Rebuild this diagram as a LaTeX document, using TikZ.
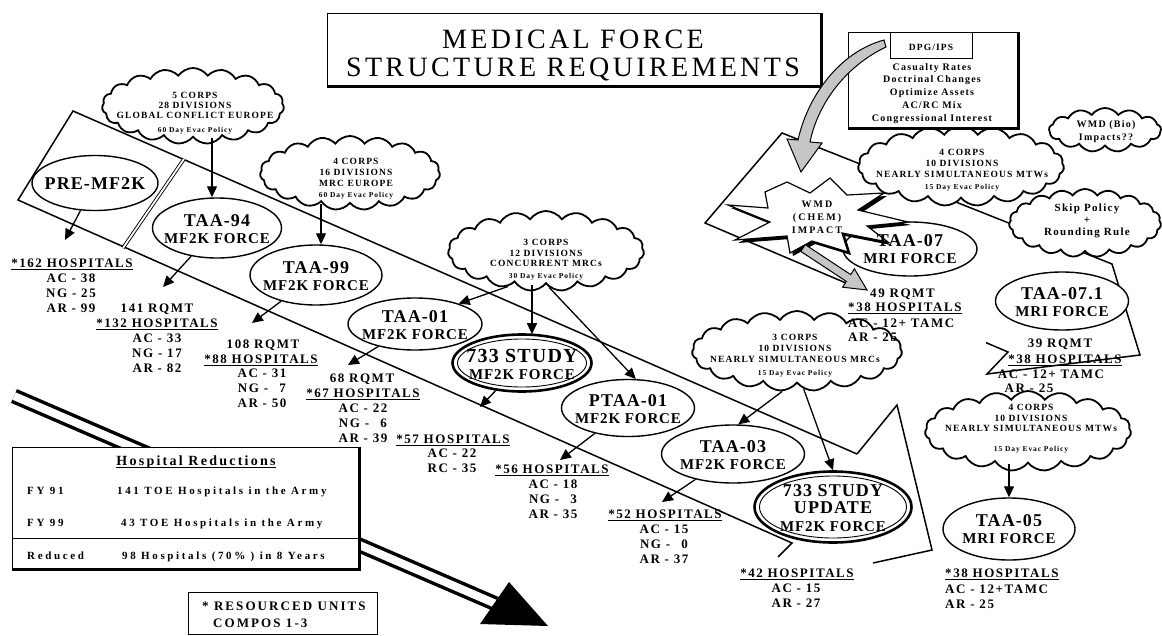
\documentclass[tikz,border=0pt]{standalone}
\usepackage{fontspec}
\setmainfont{Liberation Serif}
\newfontfamily\espc[LetterSpace=6]{Liberation Serif}
\newfontfamily\spc[LetterSpace=12]{Liberation Serif}
\newfontfamily\mspc[LetterSpace=16]{Liberation Serif}
\newfontfamily\wspc[LetterSpace=21]{Liberation Serif}
\newfontfamily\xspc[LetterSpace=24]{Liberation Serif}
\newfontfamily\tspc[LetterSpace=12]{Liberation Serif}
\usetikzlibrary{shapes.geometric,shapes.symbols,arrows.meta,calc}
\newcommand\fz[2]{\fontsize{#1}{#2}\selectfont}
\newcommand\ulnd[1]{\draw[line width=1.2pt] ([yshift=-2.5pt]#1.base west) -- ([yshift=-2.5pt]#1.base east);}
\begin{document}
\begin{tikzpicture}[x=1pt,y=-1pt,
  band/.style={line width=1.5pt, line join=miter},
  arr/.style={line width=1.3pt, -{Triangle[length=11pt,width=10pt]}},
  ell/.style={ellipse, draw, line width=1.4pt, fill=white, inner sep=0pt},
  cl/.style={cloud, cloud puffs=19, cloud puff arc=110, cloud ignores aspect, draw, line width=1.8pt, fill=white, inner sep=0pt},
  etxt/.style={inner sep=0pt, align=center, font=\espc\bfseries\fz{15}{17}},
  ctxt/.style={inner sep=0pt, align=center, anchor=north, font=\spc\bfseries\fz{9.5}{10.5}},
  lbl/.style={inner sep=0pt, anchor=base, font=\spc\bfseries\fz{13}{15}},
  sbox/.style={draw, line width=1pt, fill=white, inner sep=0pt},
  shadowline/.style={line width=3pt},
  stripe/.style={draw, line width=1pt, fill=gray!45},
  ]
\useasboundingbox (0,0) rectangle (1162,635);

% ---------- bands ----------
\draw[band] (857,454) -- (73,111) -- (18,200) -- (792,543) -- (778,557);
\draw[band] (857,454) -- (897,405) -- (932,550) -- (873,563);
\draw[line width=0.9pt, double, double distance=1.8pt] (184,159) -- (123,248);
\draw[band] (1008,352) -- (705,223) -- (782,133) -- (1112,264) -- (1140,355) -- (987,374) -- cycle;

% ---------- big arrow shaft ----------
\coordinate (bigS) at (14,396);
\coordinate (bigE) at (496,604);
\draw[line width=3.5pt, double=white, double distance=8pt] (bigS) -- (bigE);

% white block behind TAA-07 figures
\fill[white] (846,281) rectangle (986,346);

% ---------- ellipses ----------
\node[ell, minimum width=126pt, minimum height=55pt] (pre) at (95,183) {};
\node[ell, minimum width=129pt, minimum height=60pt] (t94) at (217,228) {};
\node[ell, minimum width=132pt, minimum height=60pt] (t99) at (316,275) {};
\node[ell, minimum width=134pt, minimum height=52pt] (t01) at (415,324) {};
\node[ell, line width=2.6pt, minimum width=139pt, minimum height=57pt] (s733) at (522,363) {};
\draw[line width=0.9pt] (s733.center) ellipse [x radius=64.5, y radius=24];
\node[ell, minimum width=133pt, minimum height=57pt] (ptaa) at (628,408) {};
\node[ell, minimum width=143pt, minimum height=58pt] (t03) at (733,454) {};
\node[ell, line width=2.6pt, minimum width=157pt, minimum height=71pt] (s733u) at (833,507) {};
\draw[line width=0.9pt] (s733u.center) ellipse [x radius=73.5, y radius=31];
\node[ell, minimum width=132pt, minimum height=62pt] (t05) at (1009,529) {};
\node[ell, minimum width=134pt, minimum height=54pt] (t07) at (910,249) {};
\node[ell, minimum width=133pt, minimum height=58pt] (t071) at (1062,301) {};

% ---------- clouds ----------
\node[cl, minimum width=182pt, minimum height=76pt] (cA) at (193,106) {};
\node[cl, minimum width=180pt, minimum height=74pt] (cB) at (350,173) {};
\node[cl, minimum width=196pt, minimum height=80pt] (cC) at (546,251) {};
\node[cl, minimum width=210pt, minimum height=80pt] (cD) at (797,351) {};
\node[cl, minimum width=206pt, minimum height=80pt] (cE) at (1028,431) {};
\node[cl, minimum width=206pt, minimum height=80pt] (cF) at (961,166) {};
\node[cl, minimum width=152pt, minimum height=68pt] (cSkip) at (1085,223) {};
\node[cl, cloud puffs=13, minimum width=112pt, minimum height=44pt] (cBio) at (1105,130) {};

% ---------- WMD star ----------
\begin{scope}[shift={(3,3)}]
\fill (765,192) -- (787,182) -- (810,193) -- (830,178) -- (847,195) -- (884,193) -- (858,210) -- (908,222) -- (867,226) -- (888,242) -- (842,233) -- (848,252) -- (812,241) -- (790,253) -- (787,236) -- (735,240) -- (770,222) -- (728,205) -- (768,208) -- cycle;
\end{scope}
\draw[line width=1.2pt, fill=white] (765,192) -- (787,182) -- (810,193) -- (830,178) -- (847,195) -- (884,193) -- (858,210) -- (908,222) -- (867,226) -- (888,242) -- (842,233) -- (848,252) -- (812,241) -- (790,253) -- (787,236) -- (735,240) -- (770,222) -- (728,205) -- (768,208) -- cycle;
\node[inner sep=0pt, align=center, anchor=north, font=\wspc\bfseries\fz{10}{13}] (wmd) at (817,201) {WMD\\(CHEM)\\IMPACT};

% ---------- boxes ----------
\node[sbox, minimum width=493pt, minimum height=72pt, anchor=north west] (title) at (327,13) {};
\draw[shadowline] (title.north east) -- (title.south east) -- (title.south west);
\node[inner sep=0pt, anchor=base, font=\tspc\fz{28}{28}] (title1) at (573,48) {MEDICAL FORCE};
\node[inner sep=0pt, anchor=base, font=\tspc\fz{28}{28}] (title2) at (573,76) {STRUCTURE REQUIREMENTS};

\node[sbox, minimum width=169pt, minimum height=95pt, anchor=north west] (dpg) at (848,32) {};
\draw[shadowline] (dpg.north east) -- (dpg.south east) -- (dpg.south west);
\node[draw, line width=1pt, minimum width=82pt, minimum height=26pt, anchor=north west, inner sep=0pt] (dpgh) at (890,32) {};
\node[lbl, font=\spc\bfseries\fz{9.5}{11}] (dpgt) at (931,50) {DPG/IPS};
\node[ctxt, font=\spc\bfseries\fz{10}{12.8}] (dpgl) at (932,63) {Casualty Rates\\Doctrinal Changes\\Optimize Assets\\AC/RC Mix\\Congressional Interest};

\node[sbox, minimum width=346pt, minimum height=121pt, anchor=north west] (hbox) at (12,447) {};
\draw[shadowline] (hbox.north east) -- (hbox.south east) -- (hbox.south west);
\draw[line width=1pt] (hbox.west |- 0,538) -- (hbox.east |- 0,538);
\node[lbl, font=\mspc\bfseries\fz{14}{15}] (hhead) at (196,465) {Hospital Reductions};
\ulnd{hhead}
\begin{scope}[every node/.style={lbl, anchor=base west, font=\xspc\bfseries\fz{11}{12}}]
\node (h1a) at (27,494) {FY 91};
\node (h1b) at (117,494) {141 TOE Hospitals in the Army};
\node (h2a) at (27,526) {FY 99};
\node (h2b) at (121,526) {43 TOE Hospitals in the Army};
\node (h3a) at (27,559) {Reduced};
\node (h3b) at (122,559) {98 Hospitals (70\% ) in 8 Years};
\end{scope}

\node[draw, line width=1.2pt, minimum width=189pt, minimum height=42pt, anchor=north west, inner sep=0pt] (rbox) at (188,592) {};
\node[lbl, anchor=base west, font=\mspc\bfseries\fz{13}{14}] (r1) at (202,610) {* RESOURCED UNITS};
\node[lbl, anchor=base west, font=\mspc\bfseries\fz{13}{14}] (r2) at (213,627) {COMPOS 1-3};

% ---------- ellipse texts ----------
\node[etxt] (preX) at (95,184) {{\fz{18}{17}PRE-MF2K}};
\node[etxt] (t94X) at (217,229) {{\fz{18}{17}TAA-94}\\MF2K FORCE};
\node[etxt] (t99X) at (316,276) {{\fz{18}{17}TAA-99}\\MF2K FORCE};
\node[etxt] (t01X) at (415,325) {{\fz{18}{17}TAA-01}\\MF2K FORCE};
\node[etxt] (s733X) at (522,364) {{\fz{20}{18}733 STUDY}\\MF2K FORCE};
\node[etxt] (ptaaX) at (628,409) {{\fz{18}{17}PTAA-01}\\MF2K FORCE};
\node[etxt] (t03X) at (733,455) {{\fz{18}{17}TAA-03}\\MF2K FORCE};
\node[etxt, font=\espc\bfseries\fz{15}{17.5}] (s733uX) at (833,508) {{\fz{18}{17.5}733 STUDY}\\{\fz{18}{17.5}UPDATE}\\MF2K FORCE};
\node[etxt] (t05X) at (1009,529) {{\fz{18}{17}TAA-05}\\MRI FORCE};
\node[etxt] (t07X) at (910,249) {{\fz{18}{17}TAA-07}\\MRI FORCE};
\node[etxt] (t071X) at (1062,302) {{\fz{18}{17}TAA-07.1}\\MRI FORCE};

% ---------- cloud texts ----------
\node[ctxt, font=\spc\bfseries\fz{9.5}{10}] (cAX) at (195,92) {5 CORPS\\28 DIVISIONS\\GLOBAL CONFLICT EUROPE\\[4pt]{\fz{7.5}{7}60 Day Evac Policy}};
\node[ctxt, font=\spc\bfseries\fz{9.5}{11}] (cBX) at (356,158) {4 CORPS\\16 DIVISIONS\\MRC EUROPE\\{\fz{7.5}{7}60 Day Evac Policy}};
\node[ctxt, font=\spc\bfseries\fz{9.5}{10.5}] (cCX) at (546,239.5) {3 CORPS\\12 DIVISIONS\\CONCURRENT MRCs\\[1.5pt]{\fz{7.5}{7}30 Day Evac Policy}};
\node[ctxt, font=\spc\bfseries\fz{9.5}{11}] (cDX) at (795,334.5) {3 CORPS\\10 DIVISIONS\\NEARLY SIMULTANEOUS MRCs\\[2pt]{\fz{7.5}{7}15 Day Evac Policy}};
\node[ctxt, font=\spc\bfseries\fz{9.5}{10.5}] (cEX) at (1031,404.5) {4 CORPS\\10 DIVISIONS\\NEARLY SIMULTANEOUS MTWs\\[9.5pt]{\fz{7.5}{7}15 Day Evac Policy}};
\node[ctxt, font=\spc\bfseries\fz{9.5}{11}] (cFX) at (962,149.5) {4 CORPS\\10 DIVISIONS\\NEARLY SIMULTANEOUS MTWs\\[1pt]{\fz{7.5}{7}15 Day Evac Policy}};
\node[ctxt, font=\spc\bfseries\fz{11}{12}] (cSkipX) at (1087,204) {Skip Policy\\+\\Rounding Rule};
\node[ctxt, font=\spc\bfseries\fz{10}{13}] (cBioX) at (1106,120) {WMD (Bio)\\Impacts??};

% ---------- hospital figures ----------
\node[lbl] (n162) at (72,267) {*162 HOSPITALS}; \ulnd{n162}
\node[lbl] (n162a) at (71,282) {AC - 38};
\node[lbl] (n162b) at (71,297) {NG - 25};
\node[lbl] (n162c) at (71,312) {AR - 99};

\node[lbl] (r141) at (157,312) {141 RQMT};
\node[lbl] (n132) at (157,327) {*132 HOSPITALS}; \ulnd{n132}
\node[lbl] (n132a) at (157,342) {AC - 33};
\node[lbl] (n132b) at (157,357) {NG - 17};
\node[lbl] (n132c) at (157,372) {AR - 82};

\node[lbl] (r108) at (263,348) {108 RQMT};
\node[lbl] (n88) at (261,363) {*88 HOSPITALS}; \ulnd{n88}
\node[lbl] (n88a) at (262,377) {AC - 31};
\node[lbl] (n88b) at (262,392) {NG - \phantom{0}7};
\node[lbl] (n88c) at (262,407) {AR - 50};

\node[lbl] (r68) at (362,382) {68 RQMT};
\node[lbl] (n67) at (363,397) {*67 HOSPITALS}; \ulnd{n67}
\node[lbl] (n67a) at (363,412) {AC - 22};
\node[lbl] (n67b) at (363,427) {NG - \phantom{0}6};
\node[lbl] (n67c) at (363,442) {AR - 39};

\node[lbl] (n57) at (453,443) {*57 HOSPITALS}; \ulnd{n57}
\node[lbl] (n57a) at (452,457) {AC - 22};
\node[lbl] (n57b) at (452,472) {RC - 35};

\node[lbl] (n56) at (552,473) {*56 HOSPITALS}; \ulnd{n56}
\node[lbl] (n56a) at (553,488) {AC - 18};
\node[lbl] (n56b) at (553,503) {NG - \phantom{0}3};
\node[lbl] (n56c) at (553,518) {AR - 35};

\node[lbl] (n52) at (665,518) {*52 HOSPITALS}; \ulnd{n52}
\node[lbl] (n52a) at (664,533) {AC - 15};
\node[lbl] (n52b) at (664,548) {NG - \phantom{0}0};
\node[lbl] (n52c) at (664,563) {AR - 37};

\node[lbl] (n42) at (797,577) {*42 HOSPITALS}; \ulnd{n42}
\node[lbl] (n42a) at (796,592) {AC - 15};
\node[lbl] (n42b) at (796,607) {AR - 27};

\node[lbl, anchor=base west] (n38e) at (945,577) {*38 HOSPITALS}; \ulnd{n38e}
\node[lbl, anchor=base west] (n38ea) at (945,593) {AC - 12+TAMC};
\node[lbl, anchor=base west] (n38eb) at (945,608) {AR - 25};

\node[lbl, anchor=base west] (r49) at (870,297) {49 RQMT};
\node[lbl, anchor=base west] (n38c) at (848,311) {*38 HOSPITALS}; \ulnd{n38c}
\node[lbl, anchor=base west] (n38ca) at (848,327) {AC - 12+ TAMC};
\node[lbl, anchor=base west] (n38cb) at (848,341) {AR - 25};

\node[lbl] (r39) at (1060,347) {39 RQMT};
\node[lbl] (n38d) at (1065,363) {*38 HOSPITALS}; \ulnd{n38d}
\node[lbl] (n38da) at (1051,378) {AC - 12+ TAMC};
\node[lbl] (n38db) at (1029,392) {AR - 25};

% ---------- connectors ----------
\coordinate (a1) at (65,240);
\coordinate (a2) at (163,287);
\coordinate (a3) at (252,323);
\coordinate (a4) at (348,365);
\coordinate (a5) at (480,407);
\coordinate (a6) at (560,460);
\coordinate (a7) at (662,502);
\draw[arr] (pre) -- (a1);
\draw[arr] (t94) -- (a2);
\draw[arr] (t99) -- (a3);
\draw[arr] (t01) -- (a4);
\draw[arr] (s733) -- (a5);
\draw[arr] (ptaa) -- (a6);
\draw[arr] (t03) -- (a7);
\draw[arr] ($(t94.north |- cA.south)+(-5,0)$) -- ($(t94.north)+(-5,0)$);
\draw[arr] ($(t99.north |- cB.south)+(5,0)$) -- ($(t99.north)+(5,0)$);
\draw[arr] (cC.223) -- (t01.25);
\draw[arr] ($(s733.north |- cC.south)+(10,0)$) -- ($(s733.north)+(10,1)$);
\draw[arr] (cC.275) -- (ptaa.75);
\draw[arr] (cD.250) -- (t03.80);
\draw[arr] (cD.280) -- (s733u.north);
\draw[arr] (t05.north |- cE.south) -- (t05.north);

% ---------- striped arrows ----------
\draw[stripe] (884,40) .. controls (840,52) and (808,95) .. (798,140) -- (787,139) -- (801,172) -- (822,143) -- (810,142) .. controls (818,103) and (846,66) .. (886,47) -- cycle;
\draw[stripe] (800.8,251.4) -- (846.3,281.4) -- (842.6,287.2) -- (867,290) -- (854.4,268.8) -- (850.7,274.6) -- (805.2,244.6) -- cycle;

% ---------- big arrow head ----------
\fill (509,582) -- (548,626) -- (480,624) -- cycle;
\end{tikzpicture}
\end{document}
